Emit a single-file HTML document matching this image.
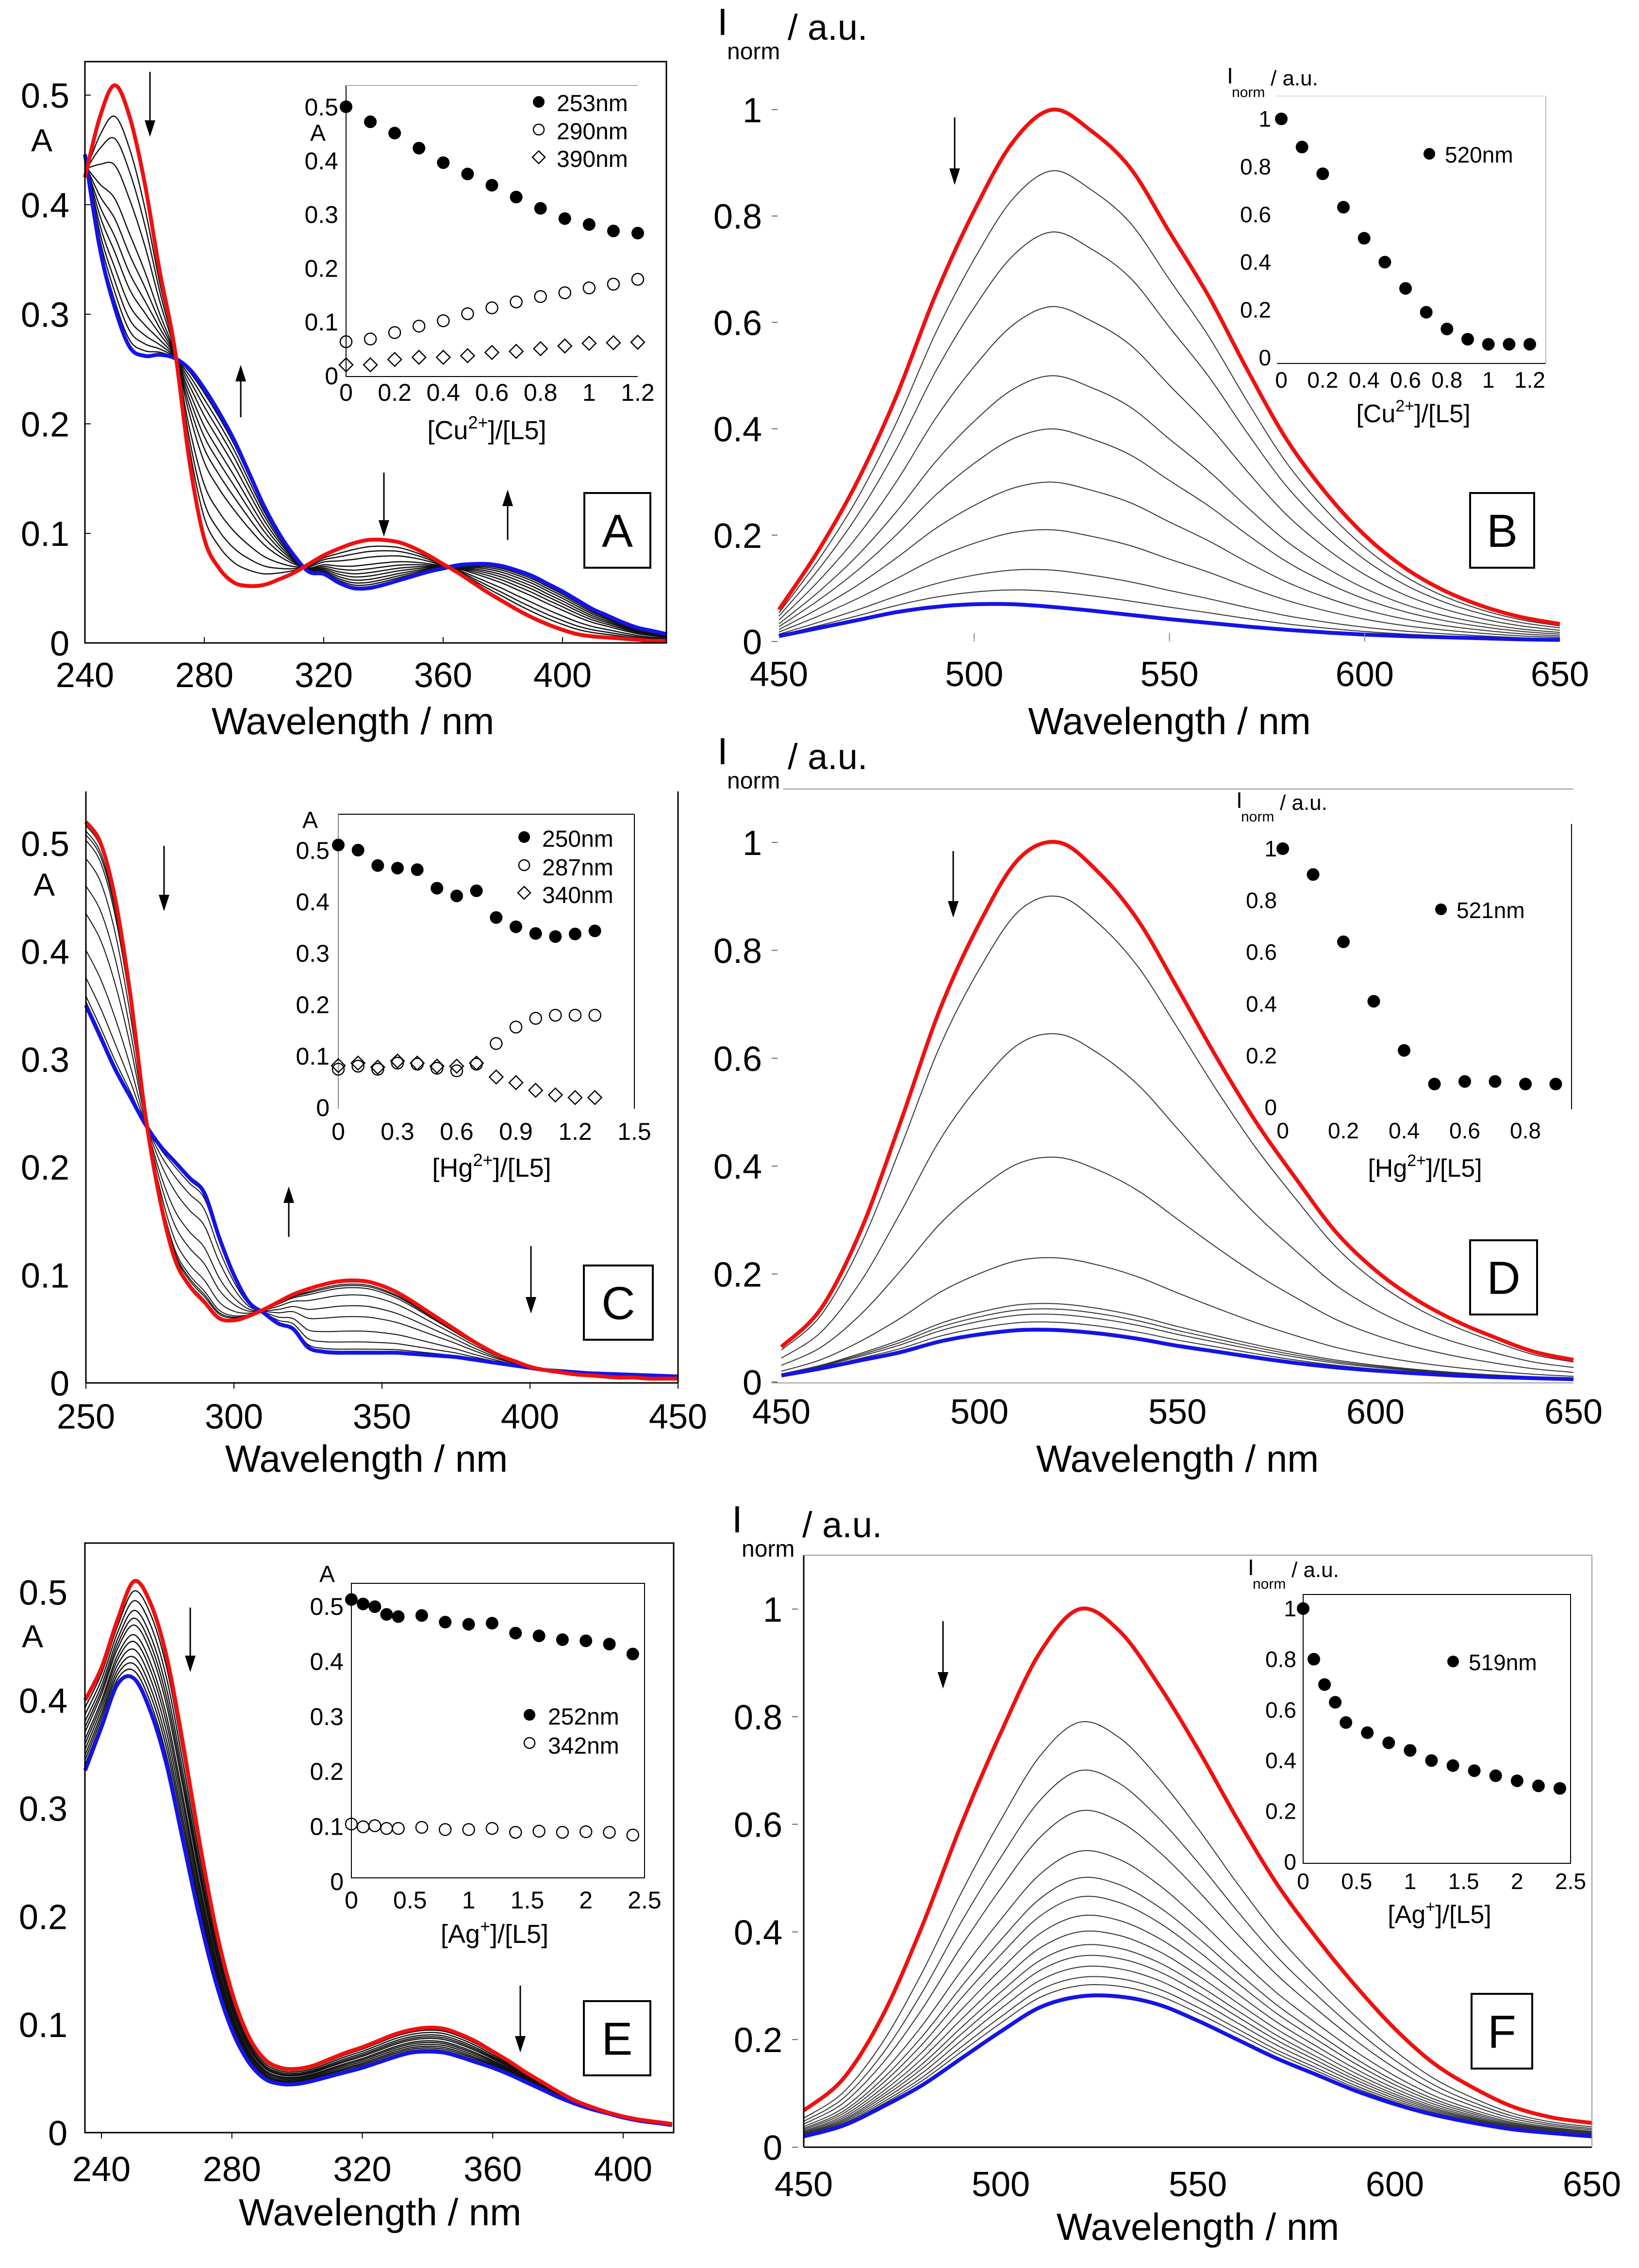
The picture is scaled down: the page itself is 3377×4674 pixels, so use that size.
<!DOCTYPE html>
<html><head><meta charset="utf-8"><title>Spectral titrations</title>
<style>
html,body{margin:0;padding:0;background:#fff;}
svg{display:block;}
text{font-family:"Liberation Sans",sans-serif;fill:#000;}
.nar{font-family:"Liberation Sans Narrow","Liberation Sans",sans-serif;}
</style></head>
<body>
<svg id="fig" xmlns="http://www.w3.org/2000/svg" width="3377" height="4674" viewBox="0 0 3377 4674"></svg>
<script>
// ---------- DATA ----------
// Panel A (Cu2+ absorption)
const aWl = [240,245,250,255,260,265,270,275,280,285,290,295,300,305,310,315,320,325,330,335,340,345,350,355,360,365,370,375,380,385,390,395,400,405,410,415,420,425,430,435];
const aRed = [.425,.48,.509,.48,.42,.34,.27,.166,.095,.068,.055,.052,.053,.058,.064,.072,.08,.086,.091,.094,.094,.092,.087,.08,.072,.064,.055,.046,.038,.03,.023,.017,.012,.008,.006,.005,.004,.003,.002,.002];
const aBlue = [.446,.36,.306,.27,.262,.263,.26,.25,.232,.21,.185,.155,.125,.1,.08,.065,.063,.055,.05,.05,.053,.057,.061,.065,.068,.071,.072,.072,.07,.066,.061,.054,.047,.039,.031,.025,.019,.014,.011,.008];
const aFrac = [.14,.24,.36,.51,.6,.68,.75,.82,.88,.93,.97];
const aInsX = [0,.1,.2,.3,.4,.5,.6,.7,.8,.9,1,1.1,1.2];
const aIns253 = [.5,.472,.451,.423,.396,.375,.354,.332,.311,.292,.281,.269,.265];
const aIns290 = [.063,.068,.08,.092,.102,.115,.126,.137,.147,.154,.163,.170,.179];
const aIns390 = [.02,.02,.03,.034,.034,.037,.043,.045,.05,.055,.06,.061,.062];
// Panel C (Hg2+ absorption)
const cWl = [250,255,260,265,270,275,280,285,290,295,300,305,310,315,320,325,330,335,340,345,350,355,360,365,370,375,380,385,390,395,400,405,410,415,420,425,430,435,440,445,450];
const cRed = [.52,.5,.447,.36,.25,.17,.115,.09,.075,.06,.058,.062,.068,.075,.082,.087,.091,.094,.095,.094,.09,.084,.076,.067,.058,.049,.04,.032,.025,.02,.015,.012,.01,.008,.007,.006,.005,.005,.004,.004,.004];
const cBlue = [.35,.32,.29,.265,.24,.22,.205,.19,.176,.135,.1,.075,.065,.055,.05,.033,.029,.028,.028,.028,.028,.028,.027,.026,.025,.024,.022,.02,.018,.016,.014,.012,.011,.01,.009,.0085,.008,.0075,.007,.0065,.006];
const cFrac = [.02,.05,.07,.1,.2,.35,.5,.7,.85,.95,.98];
const cInsX = [0,.1,.2,.3,.4,.5,.6,.7,.8,.9,1,1.1,1.2,1.3];
const cIns250 = [.51,.50,.47,.465,.462,.426,.411,.421,.369,.351,.338,.332,.337,.343];
const cIns287 = [.074,.08,.074,.086,.084,.076,.071,.084,.124,.156,.173,.179,.179,.179];
const cIns340 = [.081,.086,.078,.09,.086,.08,.08,.086,.059,.048,.033,.024,.019,.019];
// Panel E (Ag+ absorption)
const eWl = [235,240,245,250,255,260,265,270,275,280,285,290,295,300,305,310,315,320,325,330,335,340,345,350,355,360,365,370,375,380,385,390,395,400,405,410,415];
const eRed = [.40,.43,.475,.51,.49,.44,.36,.27,.19,.13,.09,.068,.06,.059,.062,.068,.074,.079,.085,.091,.095,.097,.096,.091,.084,.075,.066,.056,.047,.038,.03,.024,.019,.015,.012,.01,.008];
const eBlue = [.335,.375,.415,.42,.39,.34,.27,.2,.14,.095,.066,.05,.045,.045,.048,.052,.056,.06,.065,.07,.074,.075,.074,.07,.065,.06,.054,.047,.04,.033,.027,.022,.018,.014,.011,.009,.007];
const eFrac = [.1,.2,.3,.38,.45,.55,.62,.7,.78,.85,.92];
const eInsX = [0,.1,.2,.3,.4,.6,.8,1.0,1.2,1.4,1.6,1.8,2.0,2.2,2.4];
const eIns252 = [.512,.504,.499,.485,.481,.483,.471,.467,.469,.451,.446,.439,.437,.431,.413];
const eIns342 = [.104,.099,.101,.096,.096,.098,.094,.094,.096,.089,.091,.089,.090,.089,.084];
// Emission panels (intermediate arrays = relative intensity level of each curve between blue(0) and red(1))
const emWl = [450,460,470,480,490,500,510,520,530,540,550,560,570,580,590,600,610,620,630,640,650];
const bRed = [.06,.17,.30,.46,.65,.81,.94,1.0,.96,.89,.77,.65,.51,.38,.28,.20,.14,.097,.067,.046,.033];
const bBlue = [.01,.025,.04,.055,.065,.07,.07,.065,.058,.05,.042,.035,.028,.022,.017,.013,.01,.008,.006,.004,.003];
const bLevel = [.877,.754,.604,.465,.358,.251,.155,.074,.031];
const bInsX = [0,.1,.2,.3,.4,.5,.6,.7,.8,.9,1,1.1,1.2];
const bIns520 = [1.0,.882,.77,.63,.50,.40,.29,.19,.12,.077,.056,.056,.056];
const dRed = [.065,.136,.28,.48,.69,.85,.97,1.0,.945,.856,.73,.6,.48,.376,.278,.207,.154,.114,.083,.056,.041];
const dBlue = [.012,.025,.04,.055,.075,.088,.096,.096,.09,.08,.067,.056,.045,.035,.027,.021,.016,.012,.009,.007,.005];
const dLevel = [.889,.607,.354,.148,.054,.043,.032,.016];
const dInsX = [0,.1,.2,.3,.4,.5,.6,.7,.8,.9];
const dIns521 = [1,.90,.64,.41,.22,.09,.10,.10,.09,.09];
const fRed = [.068,.127,.244,.41,.6,.77,.92,1.0,.96,.86,.74,.61,.49,.39,.30,.22,.155,.11,.075,.055,.045];
const fBlue = [.02,.04,.075,.115,.165,.215,.26,.28,.28,.265,.235,.2,.165,.135,.105,.08,.06,.045,.033,.026,.02];
const fLevel = [.708,.583,.479,.375,.306,.257,.208,.167,.132,.104,.076,.049,.028];
const fInsX = [0,.1,.2,.3,.4,.6,.8,1.0,1.2,1.4,1.6,1.8,2.0,2.2,2.4];
const fIns519 = [1.0,.80,.70,.63,.55,.51,.47,.44,.40,.38,.36,.34,.32,.30,.29];

// ---------- HELPERS ----------
const NS = 'http://www.w3.org/2000/svg';
const svg = document.getElementById('fig');
function mk(tag, attrs, parent, name, inter) {
  const e = document.createElementNS(NS, tag);
  for (const k in attrs) e.setAttribute(k, attrs[k]);
  
  
  (parent || svg).appendChild(e);
  return e;
}
function scale(d0, d1, r0, r1) { return v => r0 + (v - d0) * (r1 - r0) / (d1 - d0); }
function txt(x, y, s, size, anchor, name, cls, parent) {
  const t = mk('text', {x: x, y: y, 'font-size': size, 'text-anchor': anchor || 'start'}, parent, name);
  if (cls) t.setAttribute('class', cls);
  t.textContent = s;
  return t;
}
function line(x1, y1, x2, y2, stroke, w, name, parent) {
  return mk('line', {x1: x1, y1: y1, x2: x2, y2: y2, stroke: stroke, 'stroke-width': w}, parent, name);
}
function smoothPath(pts) {
  let d = 'M' + pts[0][0].toFixed(1) + ',' + pts[0][1].toFixed(1);
  for (let i = 0; i < pts.length - 1; i++) {
    const p0 = pts[Math.max(0, i - 1)], p1 = pts[i], p2 = pts[i + 1], p3 = pts[Math.min(pts.length - 1, i + 2)];
    const c1x = p1[0] + (p2[0] - p0[0]) / 6, c1y = p1[1] + (p2[1] - p0[1]) / 6;
    const c2x = p2[0] - (p3[0] - p1[0]) / 6, c2y = p2[1] - (p3[1] - p1[1]) / 6;
    d += ' C' + c1x.toFixed(1) + ',' + c1y.toFixed(1) + ' ' + c2x.toFixed(1) + ',' + c2y.toFixed(1) + ' ' + p2[0].toFixed(1) + ',' + p2[1].toFixed(1);
  }
  return d;
}
function curve(xs, ys, sx, sy, color, w, name, g) {
  const pts = xs.map((x, i) => [sx(x), sy(ys[i])]);
  return mk('path', {d: smoothPath(pts), fill: 'none', stroke: color, 'stroke-width': w, 'stroke-linejoin': 'round'}, g, name);
}
function arrow(x, y1, y2, name) {
  const g = mk('g', {}, svg, name);
  const dir = y2 > y1 ? 1 : -1;
  line(x, y1, x, y2 - dir * 30, '#000', 3, 'arrow-shaft', g);
  mk('polygon', {points: (x - 11) + ',' + (y2 - dir * 34) + ' ' + (x + 11) + ',' + (y2 - dir * 34) + ' ' + x + ',' + y2, fill: '#000'}, g, 'arrow-head');
}
function panelLabel(x1, y1, x2, y2, letter, name) {
  const g = mk('g', {}, svg, name);
  mk('rect', {x: x1, y: y1, width: x2 - x1, height: y2 - y1, fill: '#fff', stroke: '#000', 'stroke-width': 4}, g, 'label-box');
  txt((x1 + x2) / 2, (y1 + y2) / 2 + 34, letter, 96, 'middle', 'label-letter', null, g);
}
function marker(type, x, y, r, g, name) {
  if (type === 'filled') return mk('circle', {cx: x, cy: y, r: r, fill: '#000'}, g, name);
  if (type === 'open') return mk('circle', {cx: x, cy: y, r: r, fill: 'none', stroke: '#000', 'stroke-width': 2.5}, g, name);
  return mk('polygon', {points: (x - r) + ',' + y + ' ' + x + ',' + (y - r) + ' ' + (x + r) + ',' + y + ' ' + x + ',' + (y + r), fill: 'none', stroke: '#000', 'stroke-width': 2.5}, g, name);
}
// frac = fraction of blue spectrum in each intermediate curve
function family(xs, red, blue, frac, sx, sy, g, thin, color) {
  frac.forEach((f, k) => {
    const ys = red.map((v, i) => v * (1 - f) + blue[i] * f);
    curve(xs, ys, sx, sy, color || '#222', thin, 'intermediate-curve-' + (k + 1), g);
  });
  curve(xs, blue, sx, sy, '#1414e6', 8, 'final-spectrum-blue', g);
  curve(xs, red, sx, sy, '#f01010', 8, 'initial-spectrum-red', g);
}

// ---------- PANEL A ----------
(function(){
  const g = mk('g', {}, svg, 'panel-a');
  const sx = scale(240, 400, 175, 1159), sy = scale(0, 0.5, 1325, 196);
  family(aWl, aRed, aBlue, aFrac, sx, sy, g, 2.5, '#111');
  mk('rect', {x: 175, y: 127, width: 1198, height: 1198, fill: 'none', stroke: '#000', 'stroke-width': 3}, g, 'plot-frame');
  [240,280,320,360,400].forEach(v => { line(sx(v), 1325, sx(v), 1313, '#000', 2, 'x-tick', g); txt(sx(v), 1416, v, 72, 'middle', 'x-tick-label', null, g); });
  [0,.1,.2,.3,.4,.5].forEach(v => { line(175, sy(v), 187, sy(v), '#000', 2, 'y-tick', g); txt(143, sy(v) + 26, v === 0 ? '0' : String(v), 72, 'end', 'y-tick-label', null, g); });
  txt(86, 312, 'A', 66, 'middle', 'y-axis-title', null, g);
  txt(727, 1513, 'Wavelength / nm', 78, 'middle', 'x-axis-title', null, g);
  const ig = mk('g', {}, g, 'inset-a');
  const ix = scale(0, 1.2, 713, 1314), iy = scale(0, 0.5, 774, 220);
  line(713, 176, 713, 776, '#000', 2, 'inset-y-axis', ig);
  line(713, 776, 1314, 776, '#000', 2, 'inset-x-axis', ig);
  line(713, 176, 1314, 176, '#aaa', 2, 'inset-top-line', ig);
  [0,.1,.2,.3,.4,.5].forEach(v => txt(697, iy(v) + 18, v === 0 ? '0' : String(v), 50, 'end', 'inset-y-tick-label', 'nar', ig));
  [0,.2,.4,.6,.8,1,1.2].forEach(v => txt(ix(v), 826, String(v), 50, 'middle', 'inset-x-tick-label', 'nar', ig));
  txt(655, 290, 'A', 48, 'middle', 'inset-y-axis-title', 'nar', ig);
  const tt = txt(1003, 905, '[Cu', 54, 'middle', 'inset-x-axis-title', 'nar', ig);
  tt.innerHTML = '[Cu<tspan font-size="36" dy="-22">2+</tspan><tspan dy="22">]/[L5]</tspan>';
  aInsX.forEach((x, i) => marker('filled', ix(x), iy(aIns253[i]), 13, ig, 'point-253nm'));
  aInsX.forEach((x, i) => marker('open', ix(x), iy(aIns290[i]), 12, ig, 'point-290nm'));
  aInsX.forEach((x, i) => marker('diamond', ix(x), iy(aIns390[i]), 14, ig, 'point-390nm'));
  marker('filled', 1110, 210, 12, ig, 'legend-marker-253nm'); txt(1147, 229, '253nm', 48, 'start', 'legend-entry-253nm', 'nar', ig);
  marker('open', 1110, 267, 11, ig, 'legend-marker-290nm'); txt(1147, 287, '290nm', 48, 'start', 'legend-entry-290nm', 'nar', ig);
  marker('diamond', 1110, 324, 13, ig, 'legend-marker-390nm'); txt(1147, 344, '390nm', 48, 'start', 'legend-entry-390nm', 'nar', ig);
})();
panelLabel(1204, 1016, 1340, 1170, 'A', 'panel-label-a');
arrow(309, 148, 282, 'arrow-down-250');
arrow(496, 860, 752, 'arrow-up-290');
arrow(791, 974, 1106, 'arrow-down-340');
arrow(1046, 1113, 1009, 'arrow-up-380');

// ---------- EMISSION PANEL GENERIC ----------
function emission(cfg) {
  const g = mk('g', {}, svg, cfg.name);
  const sx = scale(450, 650, cfg.x0, cfg.x1), sy = scale(0, 1, cfg.y0, cfg.y1);
  const frac = cfg.level.map(s => 1 - s);
  family(emWl, cfg.red, cfg.blue, frac, sx, sy, g, 2, '#333');
  if (cfg.frame) cfg.frame(g, sx, sy);
  [450,500,550,600,650].forEach(v => txt(sx(v), cfg.xlab, v, 72, 'middle', 'x-tick-label', null, g));
  [0,.2,.4,.6,.8,1].forEach(v => { txt(cfg.ylabR, sy(v) + 26, v === 0 ? '0' : String(v), 72, 'end', 'y-tick-label', null, g); line(cfg.ylabR + 20, sy(v), cfg.ylabR + 32, sy(v), '#666', 2, 'y-tick', g); });
  txt((cfg.x0 + cfg.x1) / 2, cfg.title, 'Wavelength / nm', 78, 'middle', 'x-axis-title', null, g);
  const yt = mk('g', {}, g, 'y-axis-title');
  txt(cfg.iX, cfg.iY, 'I', 78, 'start', 'y-title-i', null, yt);
  txt(cfg.iX + 20, cfg.iY + 50, 'norm', 48, 'start', 'y-title-subscript', null, yt);
  txt(cfg.iX + 145, cfg.iY + 10, '/ a.u.', 74, 'start', 'y-title-units', null, yt);
  const ig = mk('g', {}, g, cfg.name + '-inset');
  const I = cfg.ins;
  const ix = scale(0, I.xmax, I.x0, I.x1), iy = scale(0, 1, I.y0, I.y1);
  if (I.lines) I.lines(ig);
  I.yt.forEach(v => txt(I.yR, iy(v) + 16, v === 0 ? '0' : String(v), 46, 'end', 'inset-y-tick-label', 'nar', ig));
  I.xt.forEach(v => txt(ix(v), I.xlab, String(v), 46, 'middle', 'inset-x-tick-label', 'nar', ig));
  txt(I.tX, I.tY, 'I', 46, 'start', 'inset-y-title-i', 'nar', ig);
  txt(I.tX + 10, I.tY + 28, 'norm', 30, 'start', 'inset-y-title-sub', 'nar', ig);
  txt(I.tX + 90, I.tY + 4, '/ a.u.', 44, 'start', 'inset-y-title-units', 'nar', ig);
  const tt = txt(I.cx, I.cy, '[', 52, 'middle', 'inset-x-axis-title', 'nar', ig);
  tt.innerHTML = I.ion;
  I.xs.forEach((x, i) => marker('filled', ix(x), iy(I.ys[i]), 13, ig, 'point-' + I.lab));
  marker('filled', I.lx, I.ly, 12, ig, 'legend-marker');
  txt(I.lx + 32, I.ly + 18, I.lab, 46, 'start', 'legend-entry', 'nar', ig);
}

emission({name: 'panel-b', x0: 1605, x1: 3214, y0: 1322, y1: 226, red: bRed, blue: bBlue, level: bLevel,
  xlab: 1414, ylabR: 1570, title: 1513, iX: 1478, iY: 72,
  frame: (g, sx, sy) => { [500,550,600].forEach(v => line(sx(v), 1322, sx(v), 1305, '#888', 2, 'x-tick', g)); },
  ins: {xmax: 1.2, x0: 2640, x1: 3152, y0: 737, y1: 245, yR: 2619, xlab: 799, tX: 2528, tY: 172, cx: 2912, cy: 870,
    yt: [0,.2,.4,.6,.8,1], xt: [0,.2,.4,.6,.8,1,1.2], xs: bInsX, ys: bIns520, lab: '520nm', lx: 2945, ly: 317,
    ion: '[Cu<tspan font-size="34" dy="-22">2+</tspan><tspan dy="22">]/[L5]</tspan>',
    lines: ig => { line(2631, 749, 3185, 749, '#000', 2, 'inset-x-axis', ig); line(3185, 198, 3185, 749, '#bbb', 2, 'inset-right-line', ig); line(2631, 198, 3185, 198, '#ddd', 2, 'inset-top-line', ig); }}});
panelLabel(3029, 1016, 3161, 1170, 'B', 'panel-label-b');
arrow(1967, 242, 381, 'arrow-down-b');

// ---------- PANEL C ----------
(function(){
  const g = mk('g', {}, svg, 'panel-c');
  const sx = scale(250, 450, 177, 1397), sy = scale(0, 0.5, 2850, 1738);
  family(cWl, cRed, cBlue, cFrac, sx, sy, g, 2, '#111');
  line(177, 1631, 177, 2850, '#000', 3, 'y-axis-line', g);
  line(177, 2850, 1397, 2850, '#000', 3, 'x-axis-line', g);
  line(1397, 1631, 1397, 2850, '#000', 3, 'right-frame-line', g);
  [250,300,350,400,450].forEach(v => { line(sx(v), 2850, sx(v), 2862, '#000', 2, 'x-tick', g); txt(sx(v), 2944, v, 72, 'middle', 'x-tick-label', null, g); });
  [0,.1,.2,.3,.4,.5].forEach(v => txt(143, sy(v) + 26, v === 0 ? '0' : String(v), 72, 'end', 'y-tick-label', null, g));
  txt(91, 1846, 'A', 66, 'middle', 'y-axis-title', null, g);
  txt(755, 3033, 'Wavelength / nm', 78, 'middle', 'x-axis-title', null, g);
  const ig = mk('g', {}, g, 'inset-c');
  const ix = scale(0, 1.5, 697, 1307), iy = scale(0, 0.5, 2282, 1752);
  line(697, 1678, 697, 2285, '#888', 2, 'inset-y-axis', ig);
  line(697, 1678, 1307, 1678, '#000', 2, 'inset-top-line', ig);
  line(1307, 1678, 1307, 2285, '#000', 2, 'inset-right-line', ig);
  [0,.1,.2,.3,.4,.5].forEach(v => txt(679, iy(v) + 18, v === 0 ? '0' : String(v), 50, 'end', 'inset-y-tick-label', 'nar', ig));
  [0,.3,.6,.9,1.2,1.5].forEach(v => txt(ix(v), 2349, String(v), 50, 'middle', 'inset-x-tick-label', 'nar', ig));
  txt(639, 1706, 'A', 48, 'middle', 'inset-y-axis-title', 'nar', ig);
  const tt = txt(1013, 2425, '[', 54, 'middle', 'inset-x-axis-title', 'nar', ig);
  tt.innerHTML = '[Hg<tspan font-size="36" dy="-22">2+</tspan><tspan dy="22">]/[L5]</tspan>';
  cInsX.forEach((x, i) => marker('filled', ix(x), iy(cIns250[i]), 13, ig, 'point-250nm'));
  cInsX.forEach((x, i) => marker('open', ix(x), iy(cIns287[i]), 12, ig, 'point-287nm'));
  cInsX.forEach((x, i) => marker('diamond', ix(x), iy(cIns340[i]), 14, ig, 'point-340nm'));
  marker('filled', 1080, 1725, 12, ig, 'legend-marker-250nm'); txt(1117, 1745, '250nm', 48, 'start', 'legend-entry-250nm', 'nar', ig);
  marker('open', 1080, 1783, 11, ig, 'legend-marker-287nm'); txt(1117, 1804, '287nm', 48, 'start', 'legend-entry-287nm', 'nar', ig);
  marker('diamond', 1080, 1840, 13, ig, 'legend-marker-340nm'); txt(1117, 1861, '340nm', 48, 'start', 'legend-entry-340nm', 'nar', ig);
})();
panelLabel(1203, 2608, 1345, 2761, 'C', 'panel-label-c');
arrow(338, 1743, 1878, 'arrow-down-250-c');
arrow(595, 2549, 2445, 'arrow-up-c');
arrow(1094, 2568, 2707, 'arrow-down-400-c');

// ---------- PANEL D ----------
emission({name: 'panel-d', x0: 1610, x1: 3242, y0: 2848, y1: 1736, red: dRed, blue: dBlue, level: dLevel,
  xlab: 2934, ylabR: 1570, title: 3033, iX: 1478, iY: 1575,
  frame: (g) => { line(1590, 2850, 3242, 2850, '#999', 2, 'x-axis-line', g); line(1614, 1626, 3242, 1626, '#999', 2, 'top-frame-line', g); },
  ins: {xmax: 0.8, x0: 2643, x1: 3143, y0: 2282, y1: 1749, yR: 2631, xlab: 2346, tX: 2547, tY: 1665, cx: 2936, cy: 2425,
    yt: [0,.2,.4,.6,.8,1], xt: [0,.2,.4,.6,.8], xs: dInsX, ys: dIns521, lab: '521nm', lx: 2969, ly: 1874,
    ion: '[Hg<tspan font-size="34" dy="-22">2+</tspan><tspan dy="22">]/[L5]</tspan>',
    lines: ig => { line(3238, 1698, 3238, 2286, '#000', 2, 'inset-right-line', ig); }}});
panelLabel(3029, 2556, 3167, 2709, 'D', 'panel-label-d');
arrow(1964, 1754, 1891, 'arrow-down-d');

// ---------- PANEL E ----------
(function(){
  const g = mk('g', {}, svg, 'panel-e');
  const sx = scale(240, 400, 209, 1284), sy = scale(0, 0.5, 4395, 3281);
  family(eWl, eRed, eBlue, eFrac, sx, sy, g, 2.5, '#111');
  mk('rect', {x: 175, y: 3180, width: 1213, height: 1215, fill: 'none', stroke: '#000', 'stroke-width': 3}, g, 'plot-frame');
  [240,280,320,360,400].forEach(v => { line(sx(v), 4395, sx(v), 4407, '#000', 2, 'x-tick', g); txt(sx(v), 4495, v, 72, 'middle', 'x-tick-label', null, g); });
  [0,.1,.2,.3,.4,.5].forEach(v => txt(139, sy(v) + 26, v === 0 ? '0' : String(v), 72, 'end', 'y-tick-label', null, g));
  txt(67, 3395, 'A', 66, 'middle', 'y-axis-title', null, g);
  txt(783, 4586, 'Wavelength / nm', 78, 'middle', 'x-axis-title', null, g);
  const ig = mk('g', {}, g, 'inset-e');
  const ix = scale(0, 2.5, 724, 1328), iy = scale(0, 0.5, 3877, 3310);
  mk('rect', {x: 724, y: 3263, width: 604, height: 607, fill: 'none', stroke: '#000', 'stroke-width': 2}, ig, 'inset-frame');
  [0,.1,.2,.3,.4,.5].forEach(v => txt(708, iy(v) + 18, v === 0 ? '0' : String(v), 50, 'end', 'inset-y-tick-label', 'nar', ig));
  [0,.5,1,1.5,2,2.5].forEach(v => txt(ix(v), 3933, String(v), 50, 'middle', 'inset-x-tick-label', 'nar', ig));
  txt(674, 3260, 'A', 48, 'middle', 'inset-y-axis-title', 'nar', ig);
  const tt = txt(1019, 4004, '[', 54, 'middle', 'inset-x-axis-title', 'nar', ig);
  tt.innerHTML = '[Ag<tspan font-size="36" dy="-22">+</tspan><tspan dy="22">]/[L5]</tspan>';
  eInsX.forEach((x, i) => marker('filled', ix(x), iy(eIns252[i]), 13, ig, 'point-252nm'));
  eInsX.forEach((x, i) => marker('open', ix(x), iy(eIns342[i]), 12, ig, 'point-342nm'));
  marker('filled', 1091, 3534, 12, ig, 'legend-marker-252nm'); txt(1129, 3554, '252nm', 48, 'start', 'legend-entry-252nm', 'nar', ig);
  marker('open', 1091, 3592, 11, ig, 'legend-marker-342nm'); txt(1129, 3614, '342nm', 48, 'start', 'legend-entry-342nm', 'nar', ig);
})();
panelLabel(1203, 4124, 1340, 4277, 'E', 'panel-label-e');
arrow(392, 3313, 3446, 'arrow-down-250-e');
arrow(1072, 4092, 4230, 'arrow-down-370-e');

// ---------- PANEL F ----------
emission({name: 'panel-f', x0: 1656, x1: 3280, y0: 4425, y1: 3316, red: fRed, blue: fBlue, level: fLevel,
  xlab: 4526, ylabR: 1612, title: 4616, iX: 1508, iY: 3158,
  frame: (g) => { line(1656, 3205, 1656, 4425, '#000', 3, 'y-axis-line', g); line(1656, 4425, 3280, 4425, '#000', 3, 'x-axis-line', g); line(1656, 3205, 3280, 3205, '#999', 2, 'top-frame-line', g); line(3280, 3205, 3280, 4425, '#999', 2, 'right-frame-line', g); },
  ins: {xmax: 2.5, x0: 2685, x1: 3236, y0: 3837, y1: 3315, yR: 2671, xlab: 3893, tX: 2571, tY: 3246, cx: 2966, cy: 3963,
    yt: [0,.2,.4,.6,.8,1], xt: [0,.5,1,1.5,2,2.5], xs: fInsX, ys: fIns519, lab: '519nm', lx: 2994, ly: 3424,
    ion: '[Ag<tspan font-size="34" dy="-22">+</tspan><tspan dy="22">]/[L5]</tspan>',
    lines: ig => { mk('rect', {x: 2685, y: 3286, width: 551, height: 554, fill: 'none', stroke: '#000', 'stroke-width': 2}, ig, 'inset-frame'); }}});
panelLabel(3032, 4109, 3157, 4263, 'F', 'panel-label-f');
arrow(1943, 3341, 3480, 'arrow-down-f');
</script>
</body></html>
